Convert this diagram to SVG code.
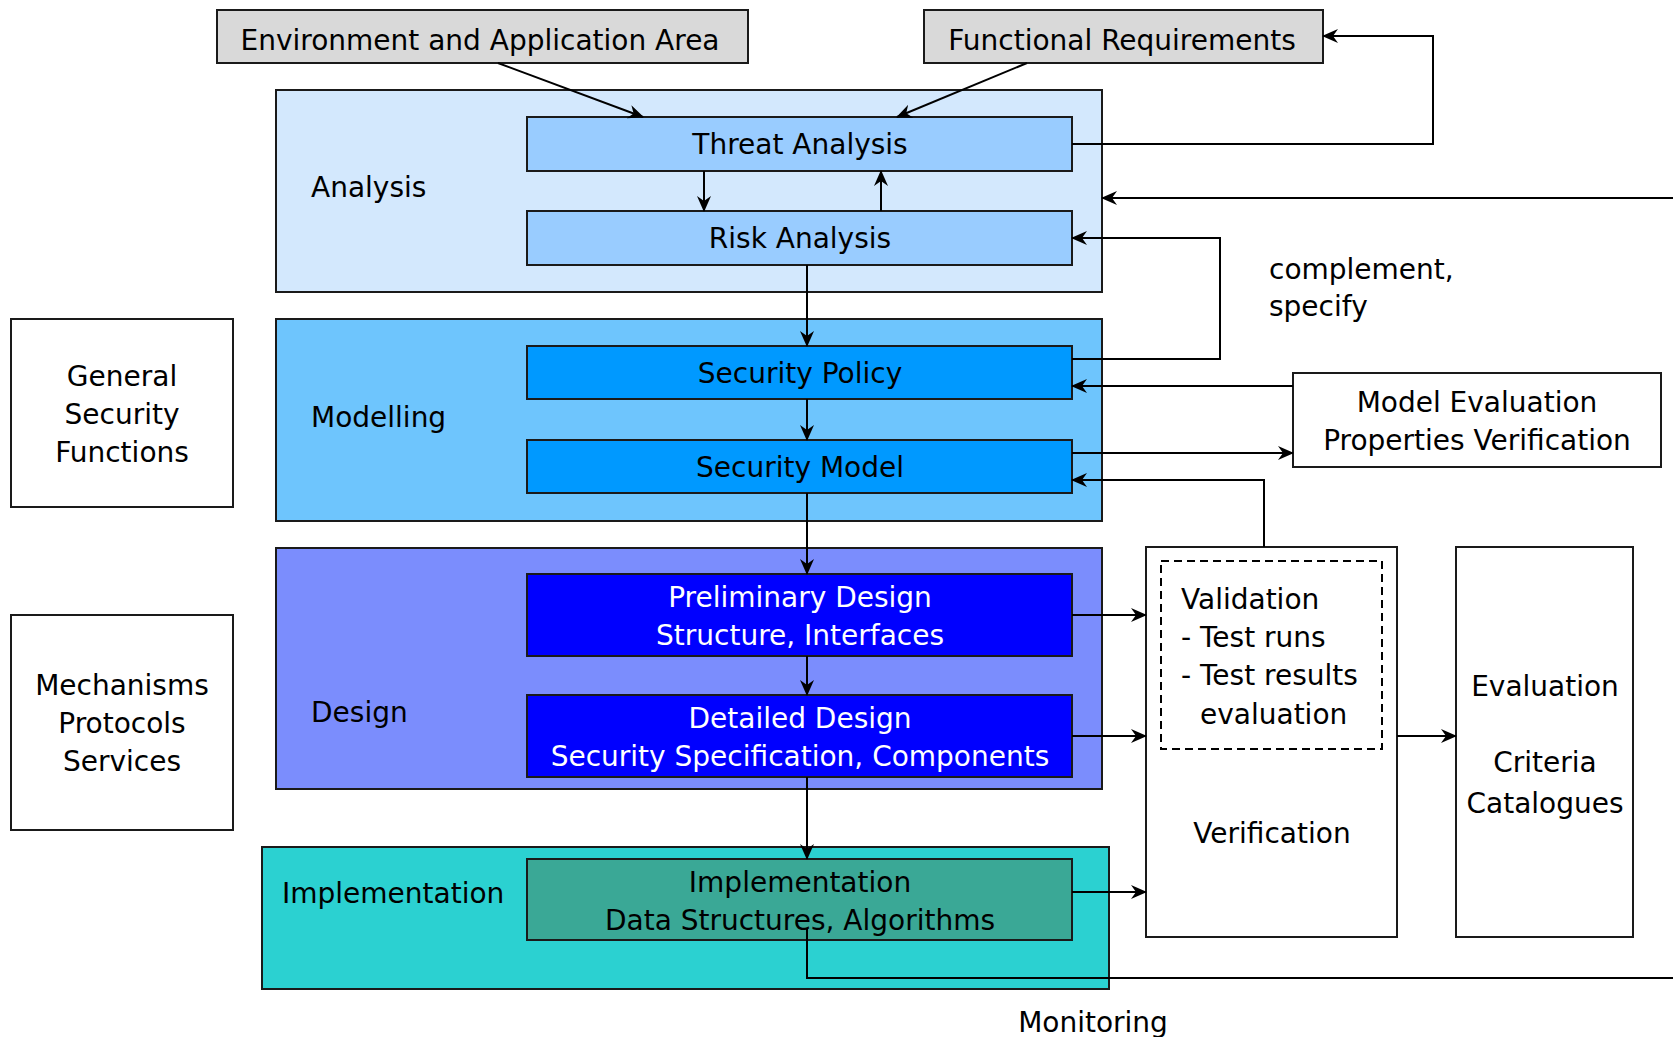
<svg xmlns="http://www.w3.org/2000/svg" width="1673" height="1037" viewBox="0 0 1673 1037">
<style>
text{font-family:"DejaVu Sans","Liberation Sans",sans-serif;font-size:28px;fill:#000}
.c{text-anchor:middle}
.w{fill:#fff}
.box{stroke:#1a1a1a;stroke-width:2}
.ln{fill:none;stroke:#000;stroke-width:2}
.arr{marker-end:url(#ah)}
</style>
<defs>
<marker id="ah" markerUnits="userSpaceOnUse" markerWidth="16" markerHeight="14" viewBox="0 0 16 14" refX="15" refY="7" orient="auto">
<path d="M0,0 L16,7 L0,14 L5,7 Z" fill="#000"/>
</marker>
</defs>
<rect width="1673" height="1037" fill="#fff"/>

<g id="env">
<rect class="box" x="217" y="10" width="531" height="53" fill="#d9d9d9"/>
<text class="c" x="480" y="50">Environment and Application Area</text>
</g>
<g id="funcreq">
<rect class="box" x="924" y="10" width="399" height="53" fill="#d9d9d9"/>
<text class="c" x="1122" y="50">Functional Requirements</text>
</g>

<g id="analysis">
<rect class="box" x="276" y="90" width="826" height="202" fill="#d3e8fd"/>
<text x="311" y="197">Analysis</text>
</g>
<g id="threat">
<rect class="box" x="527" y="117" width="545" height="54" fill="#99ccff"/>
<text class="c" x="800" y="154">Threat Analysis</text>
</g>
<g id="risk">
<rect class="box" x="527" y="211" width="545" height="54" fill="#99ccff"/>
<text class="c" x="800" y="248">Risk Analysis</text>
</g>

<g id="modelling">
<rect class="box" x="276" y="319" width="826" height="202" fill="#6ec5fd"/>
<text x="311" y="427">Modelling</text>
</g>
<g id="policy">
<rect class="box" x="527" y="346" width="545" height="53" fill="#0099ff"/>
<text class="c" x="800" y="383">Security Policy</text>
</g>
<g id="model">
<rect class="box" x="527" y="440" width="545" height="53" fill="#0099ff"/>
<text class="c" x="800" y="477">Security Model</text>
</g>

<g id="design">
<rect class="box" x="276" y="548" width="826" height="241" fill="#7b8dfd"/>
<text x="311" y="722">Design</text>
</g>
<g id="prelim">
<rect class="box" x="527" y="574" width="545" height="82" fill="#0000ff"/>
<text class="c w" x="800" y="607">Preliminary Design</text>
<text class="c w" x="800" y="645">Structure, Interfaces</text>
</g>
<g id="detailed">
<rect class="box" x="527" y="695" width="545" height="82" fill="#0000ff"/>
<text class="c w" x="800" y="728">Detailed Design</text>
<text class="c w" x="800" y="766">Security Specification, Components</text>
</g>

<g id="implementation">
<rect class="box" x="262" y="847" width="847" height="142" fill="#2bd1d1"/>
<text x="282" y="903">Implementation</text>
</g>
<g id="impl-inner">
<rect class="box" x="527" y="859" width="545" height="81" fill="#3aa896"/>
<text class="c" x="800" y="892">Implementation</text>
<text class="c" x="800" y="930">Data Structures, Algorithms</text>
</g>

<g id="gsf">
<rect class="box" x="11" y="319" width="222" height="188" fill="#fff"/>
<text class="c" x="122" y="386">General</text>
<text class="c" x="122" y="424">Security</text>
<text class="c" x="122" y="462">Functions</text>
</g>
<g id="mps">
<rect class="box" x="11" y="615" width="222" height="215" fill="#fff"/>
<text class="c" x="122" y="695">Mechanisms</text>
<text class="c" x="122" y="733">Protocols</text>
<text class="c" x="122" y="771">Services</text>
</g>

<g id="complement">
<text x="1269" y="279">complement,</text>
<text x="1269" y="316">specify</text>
</g>

<g id="mepv">
<rect class="box" x="1293" y="373" width="368" height="94" fill="#fff"/>
<text class="c" x="1477" y="412">Model Evaluation</text>
<text class="c" x="1477" y="450">Properties Verification</text>
</g>

<g id="verification">
<rect class="box" x="1146" y="547" width="251" height="390" fill="#fff"/>
<rect x="1161" y="561" width="221" height="188" fill="none" stroke="#000" stroke-width="2" stroke-dasharray="8,5"/>
<text x="1181" y="609">Validation</text>
<text x="1181" y="647">- Test runs</text>
<text x="1181" y="685">- Test results</text>
<text x="1200" y="724">evaluation</text>
<text class="c" x="1272" y="843">Verification</text>
</g>

<g id="evaluation">
<rect class="box" x="1456" y="547" width="177" height="390" fill="#fff"/>
<text class="c" x="1545" y="696">Evaluation</text>
<text class="c" x="1545" y="772">Criteria</text>
<text class="c" x="1545" y="813">Catalogues</text>
</g>

<g id="monitoring">
<text class="c" x="1093" y="1032">Monitoring</text>
</g>

<g id="connectors">
<path class="ln arr" d="M498,63 L643,117"/>
<path class="ln arr" d="M1027,63 L897,117"/>
<path class="ln arr" d="M704,171 L704,211"/>
<path class="ln arr" d="M881,211 L881,171"/>
<path class="ln arr" d="M1072,144 L1433,144 L1433,36 L1323,36"/>
<path class="ln arr" d="M1673,198 L1102,198"/>
<path class="ln arr" d="M1072,359 L1220,359 L1220,238 L1072,238"/>
<path class="ln arr" d="M807,265 L807,346"/>
<path class="ln arr" d="M807,399 L807,440"/>
<path class="ln arr" d="M1293,386 L1072,386"/>
<path class="ln arr" d="M1072,453 L1293,453"/>
<path class="ln arr" d="M1264,547 L1264,480 L1072,480"/>
<path class="ln arr" d="M807,493 L807,574"/>
<path class="ln arr" d="M807,656 L807,695"/>
<path class="ln arr" d="M807,777 L807,859"/>
<path class="ln arr" d="M1072,615 L1146,615"/>
<path class="ln arr" d="M1072,736 L1146,736"/>
<path class="ln arr" d="M1072,892 L1146,892"/>
<path class="ln arr" d="M1397,736 L1456,736"/>
<path class="ln" d="M807,928 L807,978 L1673,978"/>
</g>
</svg>
